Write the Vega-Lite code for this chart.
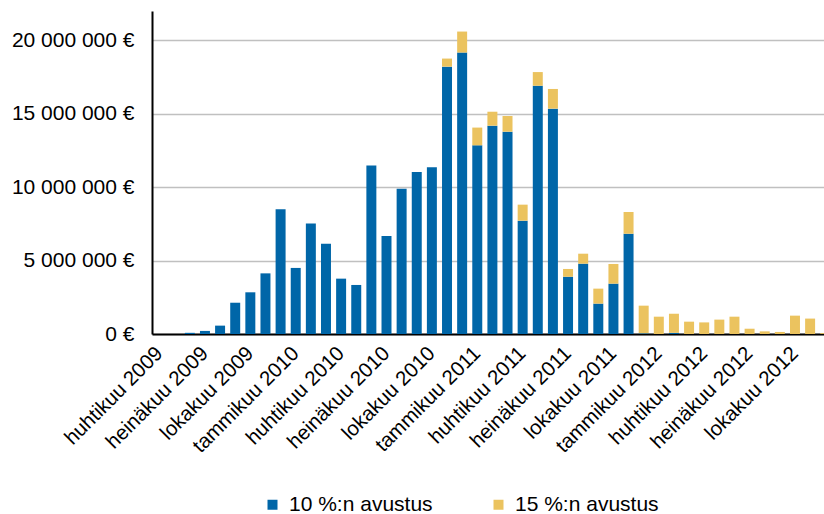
{
  "$schema": "https://vega.github.io/schema/vega-lite/v6.json",
  "width": 672,
  "height": 323,
  "autosize": {"type": "none"},
  "padding": {"left": 152, "top": 11, "right": 0, "bottom": 180},
  "background": "white",
  "config": {"view": {"stroke": null}, "font": "Liberation Sans"},
  "data": {"values": [
    {"kuukausi": "huhtikuu 2009", "sarja": "10 %:n avustus", "euroa": 0},
    {"kuukausi": "huhtikuu 2009", "sarja": "15 %:n avustus", "euroa": 0},
    {"kuukausi": "toukokuu 2009", "sarja": "10 %:n avustus", "euroa": 0},
    {"kuukausi": "toukokuu 2009", "sarja": "15 %:n avustus", "euroa": 0},
    {"kuukausi": "kesäkuu 2009", "sarja": "10 %:n avustus", "euroa": 80000},
    {"kuukausi": "kesäkuu 2009", "sarja": "15 %:n avustus", "euroa": 0},
    {"kuukausi": "heinäkuu 2009", "sarja": "10 %:n avustus", "euroa": 210000},
    {"kuukausi": "heinäkuu 2009", "sarja": "15 %:n avustus", "euroa": 0},
    {"kuukausi": "elokuu 2009", "sarja": "10 %:n avustus", "euroa": 570000},
    {"kuukausi": "elokuu 2009", "sarja": "15 %:n avustus", "euroa": 0},
    {"kuukausi": "syyskuu 2009", "sarja": "10 %:n avustus", "euroa": 2130000},
    {"kuukausi": "syyskuu 2009", "sarja": "15 %:n avustus", "euroa": 0},
    {"kuukausi": "lokakuu 2009", "sarja": "10 %:n avustus", "euroa": 2840000},
    {"kuukausi": "lokakuu 2009", "sarja": "15 %:n avustus", "euroa": 0},
    {"kuukausi": "marraskuu 2009", "sarja": "10 %:n avustus", "euroa": 4130000},
    {"kuukausi": "marraskuu 2009", "sarja": "15 %:n avustus", "euroa": 0},
    {"kuukausi": "joulukuu 2009", "sarja": "10 %:n avustus", "euroa": 8490000},
    {"kuukausi": "joulukuu 2009", "sarja": "15 %:n avustus", "euroa": 0},
    {"kuukausi": "tammikuu 2010", "sarja": "10 %:n avustus", "euroa": 4500000},
    {"kuukausi": "tammikuu 2010", "sarja": "15 %:n avustus", "euroa": 0},
    {"kuukausi": "helmikuu 2010", "sarja": "10 %:n avustus", "euroa": 7520000},
    {"kuukausi": "helmikuu 2010", "sarja": "15 %:n avustus", "euroa": 0},
    {"kuukausi": "maaliskuu 2010", "sarja": "10 %:n avustus", "euroa": 6150000},
    {"kuukausi": "maaliskuu 2010", "sarja": "15 %:n avustus", "euroa": 0},
    {"kuukausi": "huhtikuu 2010", "sarja": "10 %:n avustus", "euroa": 3770000},
    {"kuukausi": "huhtikuu 2010", "sarja": "15 %:n avustus", "euroa": 0},
    {"kuukausi": "toukokuu 2010", "sarja": "10 %:n avustus", "euroa": 3340000},
    {"kuukausi": "toukokuu 2010", "sarja": "15 %:n avustus", "euroa": 0},
    {"kuukausi": "kesäkuu 2010", "sarja": "10 %:n avustus", "euroa": 11470000},
    {"kuukausi": "kesäkuu 2010", "sarja": "15 %:n avustus", "euroa": 0},
    {"kuukausi": "heinäkuu 2010", "sarja": "10 %:n avustus", "euroa": 6680000},
    {"kuukausi": "heinäkuu 2010", "sarja": "15 %:n avustus", "euroa": 0},
    {"kuukausi": "elokuu 2010", "sarja": "10 %:n avustus", "euroa": 9900000},
    {"kuukausi": "elokuu 2010", "sarja": "15 %:n avustus", "euroa": 0},
    {"kuukausi": "syyskuu 2010", "sarja": "10 %:n avustus", "euroa": 11040000},
    {"kuukausi": "syyskuu 2010", "sarja": "15 %:n avustus", "euroa": 0},
    {"kuukausi": "lokakuu 2010", "sarja": "10 %:n avustus", "euroa": 11350000},
    {"kuukausi": "lokakuu 2010", "sarja": "15 %:n avustus", "euroa": 0},
    {"kuukausi": "marraskuu 2010", "sarja": "10 %:n avustus", "euroa": 18210000},
    {"kuukausi": "marraskuu 2010", "sarja": "15 %:n avustus", "euroa": 550000},
    {"kuukausi": "joulukuu 2010", "sarja": "10 %:n avustus", "euroa": 19170000},
    {"kuukausi": "joulukuu 2010", "sarja": "15 %:n avustus", "euroa": 1430000},
    {"kuukausi": "tammikuu 2011", "sarja": "10 %:n avustus", "euroa": 12850000},
    {"kuukausi": "tammikuu 2011", "sarja": "15 %:n avustus", "euroa": 1210000},
    {"kuukausi": "helmikuu 2011", "sarja": "10 %:n avustus", "euroa": 14190000},
    {"kuukausi": "helmikuu 2011", "sarja": "15 %:n avustus", "euroa": 950000},
    {"kuukausi": "maaliskuu 2011", "sarja": "10 %:n avustus", "euroa": 13780000},
    {"kuukausi": "maaliskuu 2011", "sarja": "15 %:n avustus", "euroa": 1070000},
    {"kuukausi": "huhtikuu 2011", "sarja": "10 %:n avustus", "euroa": 7720000},
    {"kuukausi": "huhtikuu 2011", "sarja": "15 %:n avustus", "euroa": 1090000},
    {"kuukausi": "toukokuu 2011", "sarja": "10 %:n avustus", "euroa": 16910000},
    {"kuukausi": "toukokuu 2011", "sarja": "15 %:n avustus", "euroa": 930000},
    {"kuukausi": "kesäkuu 2011", "sarja": "10 %:n avustus", "euroa": 15350000},
    {"kuukausi": "kesäkuu 2011", "sarja": "15 %:n avustus", "euroa": 1340000},
    {"kuukausi": "heinäkuu 2011", "sarja": "10 %:n avustus", "euroa": 3900000},
    {"kuukausi": "heinäkuu 2011", "sarja": "15 %:n avustus", "euroa": 530000},
    {"kuukausi": "elokuu 2011", "sarja": "10 %:n avustus", "euroa": 4790000},
    {"kuukausi": "elokuu 2011", "sarja": "15 %:n avustus", "euroa": 680000},
    {"kuukausi": "syyskuu 2011", "sarja": "10 %:n avustus", "euroa": 2070000},
    {"kuukausi": "syyskuu 2011", "sarja": "15 %:n avustus", "euroa": 1020000},
    {"kuukausi": "lokakuu 2011", "sarja": "10 %:n avustus", "euroa": 3430000},
    {"kuukausi": "lokakuu 2011", "sarja": "15 %:n avustus", "euroa": 1340000},
    {"kuukausi": "marraskuu 2011", "sarja": "10 %:n avustus", "euroa": 6830000},
    {"kuukausi": "marraskuu 2011", "sarja": "15 %:n avustus", "euroa": 1480000},
    {"kuukausi": "joulukuu 2011", "sarja": "10 %:n avustus", "euroa": 50000},
    {"kuukausi": "joulukuu 2011", "sarja": "15 %:n avustus", "euroa": 1880000},
    {"kuukausi": "tammikuu 2012", "sarja": "10 %:n avustus", "euroa": 0},
    {"kuukausi": "tammikuu 2012", "sarja": "15 %:n avustus", "euroa": 1180000},
    {"kuukausi": "helmikuu 2012", "sarja": "10 %:n avustus", "euroa": 80000},
    {"kuukausi": "helmikuu 2012", "sarja": "15 %:n avustus", "euroa": 1300000},
    {"kuukausi": "maaliskuu 2012", "sarja": "10 %:n avustus", "euroa": 0},
    {"kuukausi": "maaliskuu 2012", "sarja": "15 %:n avustus", "euroa": 840000},
    {"kuukausi": "huhtikuu 2012", "sarja": "10 %:n avustus", "euroa": 0},
    {"kuukausi": "huhtikuu 2012", "sarja": "15 %:n avustus", "euroa": 790000},
    {"kuukausi": "toukokuu 2012", "sarja": "10 %:n avustus", "euroa": 0},
    {"kuukausi": "toukokuu 2012", "sarja": "15 %:n avustus", "euroa": 980000},
    {"kuukausi": "kesäkuu 2012", "sarja": "10 %:n avustus", "euroa": 0},
    {"kuukausi": "kesäkuu 2012", "sarja": "15 %:n avustus", "euroa": 1180000},
    {"kuukausi": "heinäkuu 2012", "sarja": "10 %:n avustus", "euroa": 0},
    {"kuukausi": "heinäkuu 2012", "sarja": "15 %:n avustus", "euroa": 360000},
    {"kuukausi": "elokuu 2012", "sarja": "10 %:n avustus", "euroa": 0},
    {"kuukausi": "elokuu 2012", "sarja": "15 %:n avustus", "euroa": 180000},
    {"kuukausi": "syyskuu 2012", "sarja": "10 %:n avustus", "euroa": 0},
    {"kuukausi": "syyskuu 2012", "sarja": "15 %:n avustus", "euroa": 140000},
    {"kuukausi": "lokakuu 2012", "sarja": "10 %:n avustus", "euroa": 0},
    {"kuukausi": "lokakuu 2012", "sarja": "15 %:n avustus", "euroa": 1250000},
    {"kuukausi": "marraskuu 2012", "sarja": "10 %:n avustus", "euroa": 0},
    {"kuukausi": "marraskuu 2012", "sarja": "15 %:n avustus", "euroa": 1050000},
    {"kuukausi": "joulukuu 2012", "sarja": "10 %:n avustus", "euroa": 0},
    {"kuukausi": "joulukuu 2012", "sarja": "15 %:n avustus", "euroa": 60000}
  ]},
  "mark": {"type": "bar"},
  "encoding": {
    "x": {
      "field": "kuukausi",
      "type": "ordinal",
      "sort": null,
      "scale": {"range": [0, 680.8], "paddingInner": 0.34, "paddingOuter": 0.17},
      "axis": {
        "title": null,
        "ticks": false,
        "domainColor": "#000000",
        "domainWidth": 2,
        "labelAngle": -45,
        "labelAlign": "right",
        "labelBaseline": "middle",
        "labelPadding": 16,
        "labelFont": "Liberation Sans",
        "labelFontSize": 20.5,
        "labelColor": "#000000",
        "labelOverlap": false,
        "labelFlush": false,
        "labelBound": false,
        "labelExpr": "indexof(['huhtikuu', 'heinäkuu', 'lokakuu', 'tammikuu'], split(datum.label, ' ')[0]) >= 0 ? datum.label : ''"
      }
    },
    "y": {
      "field": "euroa",
      "type": "quantitative",
      "stack": "zero",
      "scale": {"domain": [0, 22000000], "nice": false},
      "axis": {
        "title": null,
        "values": [0, 5000000, 10000000, 15000000, 20000000],
        "ticks": false,
        "domainColor": "#000000",
        "domainWidth": 2,
        "grid": true,
        "gridColor": "#C0C0C0",
        "gridWidth": 1.5,
        "labelFont": "Liberation Sans",
        "labelFontSize": 21,
        "labelColor": "#000000",
        "labelPadding": 18,
        "labelExpr": "replace(replace(format(datum.value, ',d'), ',', ' '), ',', ' ') + ' €'"
      }
    },
    "color": {
      "field": "sarja",
      "type": "nominal",
      "scale": {"domain": ["10 %:n avustus", "15 %:n avustus"], "range": ["#0066A8", "#EBC35F"]},
      "legend": {
        "title": null,
        "orient": "none",
        "legendX": 110,
        "legendY": 483,
        "direction": "horizontal",
        "symbolType": "square",
        "symbolSize": 100,
        "symbolStrokeWidth": 0,
        "symbolOpacity": 1,
        "labelFont": "Liberation Sans",
        "labelFontSize": 21,
        "labelColor": "#000000",
        "labelOffset": 6,
        "columnPadding": 55
      }
    },
    "order": {"field": "sarja", "sort": "ascending"}
  }
}
